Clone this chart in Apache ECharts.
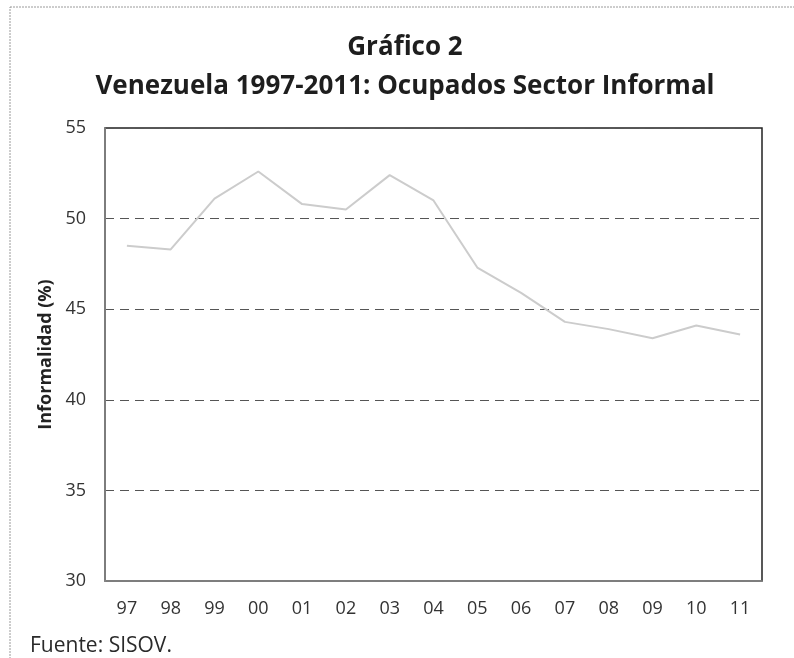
<!DOCTYPE html>
<html>
<head>
<meta charset="utf-8">
<script src="https://cdn.jsdelivr.net/npm/echarts@6/dist/echarts.min.js"></script>
<style>
  html, body { margin: 0; padding: 0; background: #fff; }
  #chart { width: 794px; height: 658px; }
</style>
</head>
<body>
<div id="chart"></div>
<script>
// Years shown on the category axis (two-digit labels)
const years = ['97', '98', '99', '00', '01', '02', '03', '04', '05', '06', '07', '08', '09', '10', '11'];
// Share of employed workers in the informal sector (%)
const informalidad = [48.5, 48.3, 51.1, 52.6, 50.8, 50.5, 52.4, 51.0, 47.3, 45.9, 44.3, 43.9, 43.4, 44.1, 43.6];
// Value axis ticks
const yMin = 30, yMax = 55, yStep = 5;

const FONT = '"Open Sans", "DejaVu Sans", sans-serif';

const chart = echarts.init(document.getElementById('chart'), null, { renderer: 'canvas' });

chart.setOption({
  backgroundColor: '#ffffff',
  animation: false,
  graphic: [
    {
      // outer frame of the figure
      type: 'rect',
      shape: { x: 10, y: 7, width: 820, height: 700 },
      style: { fill: 'none', stroke: '#9a9a9a', lineWidth: 1, lineDash: [2, 1] },
      silent: true
    },
    {
      type: 'text',
      x: 405,
      y: 48,
      style: {
        text: 'Gráfico 2', fontFamily: FONT, fontSize: 26, fontWeight: 'bold',
        fill: '#1e1e1e', align: 'center', verticalAlign: 'middle'
      }
    },
    {
      type: 'text',
      x: 405,
      y: 87,
      style: {
        text: 'Venezuela 1997-2011: Ocupados Sector Informal', fontFamily: FONT, fontSize: 26,
        fontWeight: 'bold', fill: '#1e1e1e', align: 'center', verticalAlign: 'middle'
      }
    },
    {
      type: 'text',
      left: 30,
      top: 636,
      style: { text: 'Fuente: SISOV.', fontFamily: FONT, fontSize: 21, fill: '#2a2a2a' }
    }
  ],
  grid: {
    left: 105,
    right: 32,
    top: 128,
    bottom: 77,
    show: true,
    borderColor: '#222',
    borderWidth: 1.5,
    backgroundColor: '#fff'
  },
  xAxis: {
    type: 'category',
    data: years,
    boundaryGap: true,
    axisLine: { show: true, lineStyle: { color: '#8a8a8a', width: 1.5 } },
    axisTick: { show: false },
    axisLabel: { fontFamily: FONT, fontSize: 18, color: '#333', margin: 19 },
    splitLine: { show: false }
  },
  yAxis: {
    type: 'value',
    min: yMin,
    max: yMax,
    interval: yStep,
    name: 'Informalidad (%)',
    nameLocation: 'middle',
    nameGap: 49,
    nameRotate: 90,
    nameTextStyle: { fontFamily: FONT, fontSize: 18, fontWeight: 'bold', color: '#222' },
    axisLine: { show: true, lineStyle: { color: '#8a8a8a', width: 1.5 } },
    axisTick: { show: false },
    axisLabel: { fontFamily: FONT, fontSize: 18, color: '#333', margin: 19 },
    splitLine: { show: true, lineStyle: { color: '#555', width: 1, type: [9, 6] } }
  },
  series: [
    {
      type: 'line',
      data: informalidad,
      symbol: 'none',
      smooth: false,
      lineStyle: { color: '#cccccc', width: 2 }
    }
  ]
});
</script>
</body>
</html>
